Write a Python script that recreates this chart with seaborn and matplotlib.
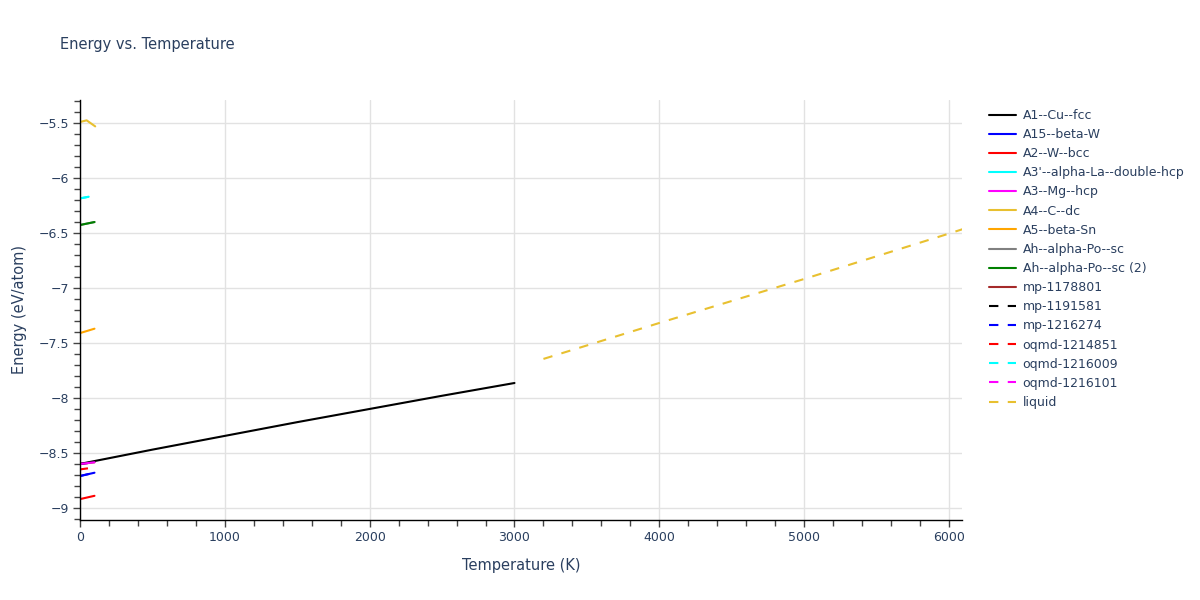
import numpy as np
import pandas as pd
import matplotlib
matplotlib.use("Agg")
from matplotlib import pyplot as plt
from matplotlib.lines import Line2D
from matplotlib.ticker import MultipleLocator, FuncFormatter
import seaborn as sns

# series names, colours and styles (in legend order)
names = ["A1--Cu--fcc", "A15--beta-W", "A2--W--bcc", "A3'--alpha-La--double-hcp",
         "A3--Mg--hcp", "A4--C--dc", "A5--beta-Sn", "Ah--alpha-Po--sc",
         "Ah--alpha-Po--sc (2)", "mp-1178801", "mp-1191581", "mp-1216274",
         "oqmd-1214851", "oqmd-1216009", "oqmd-1216101", "liquid"]
colors = ["black", "blue", "red", "cyan", "magenta", "#E8C030", "orange", "gray",
          "green", "brown", "black", "blue", "red", "cyan", "magenta", "#E8C030"]
dashed = [False] * 10 + [True] * 6

# temperature (K) and energy (eV/atom)
temps = {
    "A1--Cu--fcc": [0, 500, 1000, 1500, 2000, 2500, 3000],
    "A15--beta-W": [0, 100],
    "A2--W--bcc": [0, 100],
    "A3'--alpha-La--double-hcp": [0, 60],
    "A3--Mg--hcp": [0, 100],
    "A4--C--dc": [0, 46, 105],
    "A5--beta-Sn": [0, 100],
    "Ah--alpha-Po--sc": [0, 100],
    "Ah--alpha-Po--sc (2)": [0, 100],
    "mp-1178801": [0, 100],
    "mp-1191581": [0, 100],
    "mp-1216274": [0, 100],
    "oqmd-1214851": [0, 55],
    "oqmd-1216009": [0, 60],
    "oqmd-1216101": [0, 100],
    "liquid": [3200, 4000, 5000, 6000, 6200],
}
energies = {
    "A1--Cu--fcc": [-8.60, -8.47, -8.345, -8.22, -8.10, -7.98, -7.864],
    "A15--beta-W": [-8.71, -8.68],
    "A2--W--bcc": [-8.92, -8.89],
    "A3'--alpha-La--double-hcp": [-6.185, -6.17],
    "A3--Mg--hcp": [-8.60, -8.585],
    "A4--C--dc": [-5.49, -5.475, -5.53],
    "A5--beta-Sn": [-7.41, -7.37],
    "Ah--alpha-Po--sc": [-6.427, -6.40],
    "Ah--alpha-Po--sc (2)": [-6.427, -6.40],
    "mp-1178801": [-8.60, -8.585],
    "mp-1191581": [-8.60, -8.585],
    "mp-1216274": [-8.71, -8.68],
    "oqmd-1214851": [-8.65, -8.64],
    "oqmd-1216009": [-6.185, -6.17],
    "oqmd-1216101": [-8.60, -8.585],
    "liquid": [-7.645, -7.318, -6.918, -6.505, -6.42],
}

# draw hidden (overlapped) series first, visible ones last
draw_order = ["Ah--alpha-Po--sc", "mp-1178801", "mp-1191581", "mp-1216274",
              "oqmd-1216009", "oqmd-1216101", "A1--Cu--fcc", "A15--beta-W",
              "A2--W--bcc", "A3'--alpha-La--double-hcp", "A3--Mg--hcp",
              "A4--C--dc", "A5--beta-Sn", "Ah--alpha-Po--sc (2)",
              "oqmd-1214851", "liquid"]

sns.set_style("white")
plt.rcParams['font.family'] = ['DejaVu Sans']
text_col = "#2a3f5f"

fig = plt.figure(figsize=(12, 6), dpi=100)
ax = fig.add_axes([80 / 1200, 80 / 600, 882 / 1200, 420 / 600])

dash = (0, (4.5, 4.5))
for n in draw_order:
    i = names.index(n)
    df = pd.DataFrame({"T": temps[n], "E": energies[n]})
    sns.lineplot(data=df, x="T", y="E", ax=ax, color=colors[i], lw=1.5,
                 linestyle=dash if dashed[i] else "-", legend=False,
                 estimator=None, sort=False)

ax.set_xlim(0, 6090)
ax.set_ylim(-9.11, -5.29)
ax.xaxis.set_major_locator(MultipleLocator(1000))
ax.xaxis.set_minor_locator(MultipleLocator(200))
ax.yaxis.set_major_locator(MultipleLocator(0.5))
ax.yaxis.set_minor_locator(MultipleLocator(0.1))
ax.yaxis.set_major_formatter(FuncFormatter(lambda v, p: ("%g" % v).replace("-", "\u2212")))
ax.grid(True, which="major", color="#e2e2e2", lw=1)
ax.set_axisbelow(True)
for s in ["top", "right"]:
    ax.spines[s].set_visible(False)
for s in ["left", "bottom"]:
    ax.spines[s].set_color("black")
    ax.spines[s].set_linewidth(1)
ax.tick_params(which="major", direction="out", length=5, width=1, color="#444444",
               labelsize=9, labelcolor=text_col, pad=3)
ax.tick_params(which="minor", direction="out", length=4, width=1, color="#444444")
ax.tick_params(axis="both", which="both", left=True, bottom=True)

ax.set_xlabel("Temperature (K)", fontsize=10.5, color=text_col, labelpad=10)
ax.set_ylabel("Energy (eV/atom)", fontsize=10.5, color=text_col, labelpad=8)
fig.text(60 / 1200, 1 - 45 / 600, "Energy vs. Temperature", fontsize=10.5,
         color=text_col, va="center", ha="left")

handles = [Line2D([0], [0], color=colors[i], lw=1.5,
                  linestyle=dash if dashed[i] else "-") for i in range(len(names))]
leg = ax.legend(handles, names, loc="upper left", bbox_to_anchor=(984 / 1200, 1 - 104 / 600),
                bbox_transform=fig.transFigure, frameon=False, fontsize=9,
                handlelength=2.2, labelspacing=0.49, borderaxespad=0, handletextpad=0.5)
for t in leg.get_texts():
    t.set_color(text_col)

fig.savefig("out.png", dpi=100)
